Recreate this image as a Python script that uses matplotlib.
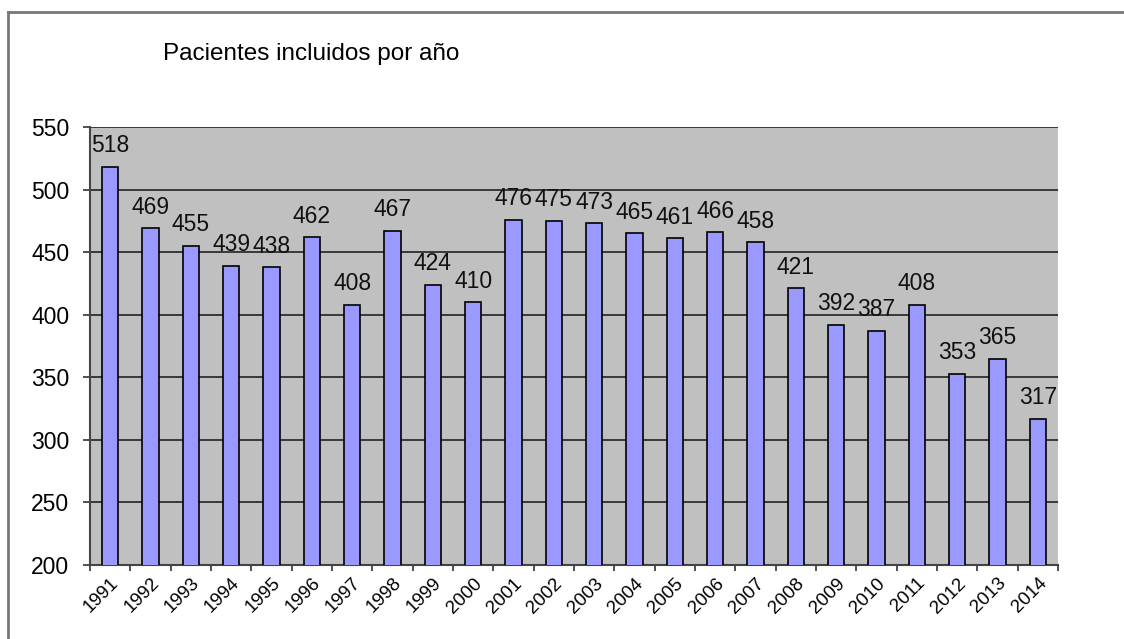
import matplotlib
matplotlib.use("Agg")
import matplotlib.pyplot as plt
from matplotlib.lines import Line2D
import matplotlib.transforms as mtransforms
import numpy as np

years = [str(y) for y in range(1991, 2015)]
values = [518, 469, 455, 439, 438, 462, 408, 467, 424, 410, 476, 475, 473,
          465, 461, 466, 458, 421, 392, 387, 408, 353, 365, 317]
title = "Pacientes incluidos por año"
yticks = [200, 250, 300, 350, 400, 450, 500, 550]

plt.rcParams['font.family'] = ['Liberation Sans', 'DejaVu Sans']

fig = plt.figure(figsize=(11.24, 6.39), dpi=100)
ax = fig.add_axes([90/1124, 1-565/639, 968/1124, 438/639])
ax.set_facecolor('#C0C0C0')

x = np.arange(len(years))
ax.bar(x, values, width=0.4, color='#9999FF', edgecolor='#000000',
       linewidth=1.2, zorder=3, bottom=0)
ax.set_xlim(-0.5, len(years) - 0.5)
ax.set_ylim(200, 550)
ax.set_yticks(yticks)
ax.set_yticklabels([str(v) for v in yticks], fontsize=16.5)
ax.yaxis.grid(True, color='#222222', linewidth=1.2, zorder=1)
ax.set_axisbelow(True)

ax.set_xticks(np.arange(len(years) + 1) - 0.5, minor=False)
ax.set_xticklabels([])
ax.set_xticks(x, minor=True)
ax.set_xticklabels(years, minor=True, rotation=45, ha='right', va='top',
                   rotation_mode='anchor', fontsize=13.5)
shift = mtransforms.ScaledTranslation(4/100, 0, fig.dpi_scale_trans)
for lab in ax.get_xticklabels(minor=True):
    lab.set_transform(lab.get_transform() + shift)
ax.tick_params(axis='x', which='minor', length=0, pad=7)
ax.tick_params(axis='x', which='major', length=4, width=1.2, color='#333333')
ax.tick_params(axis='y', length=5, width=1.2, color='#333333', pad=10)

for s in ['top', 'right']:
    ax.spines[s].set_visible(False)
for s in ['left', 'bottom']:
    ax.spines[s].set_color('#444444')
    ax.spines[s].set_linewidth(1.5)

for xi, v in zip(x, values):
    ax.annotate(str(v), (xi, v), xytext=(0, 10.5), textcoords='offset points',
                ha='center', va='baseline', fontsize=16.5, color='#111111')

fig.text(163/1124, 1-54/639, title, fontsize=17.5, ha='left', va='center')

# outer border
fig.add_artist(Line2D([8/1124, 8/1124], [0, 1-12/639], color='#777777',
                      linewidth=2, transform=fig.transFigure))
fig.add_artist(Line2D([8/1124, 1], [1-12/639, 1-12/639], color='#777777',
                      linewidth=2, transform=fig.transFigure))

fig.savefig("out.png", dpi=100)
